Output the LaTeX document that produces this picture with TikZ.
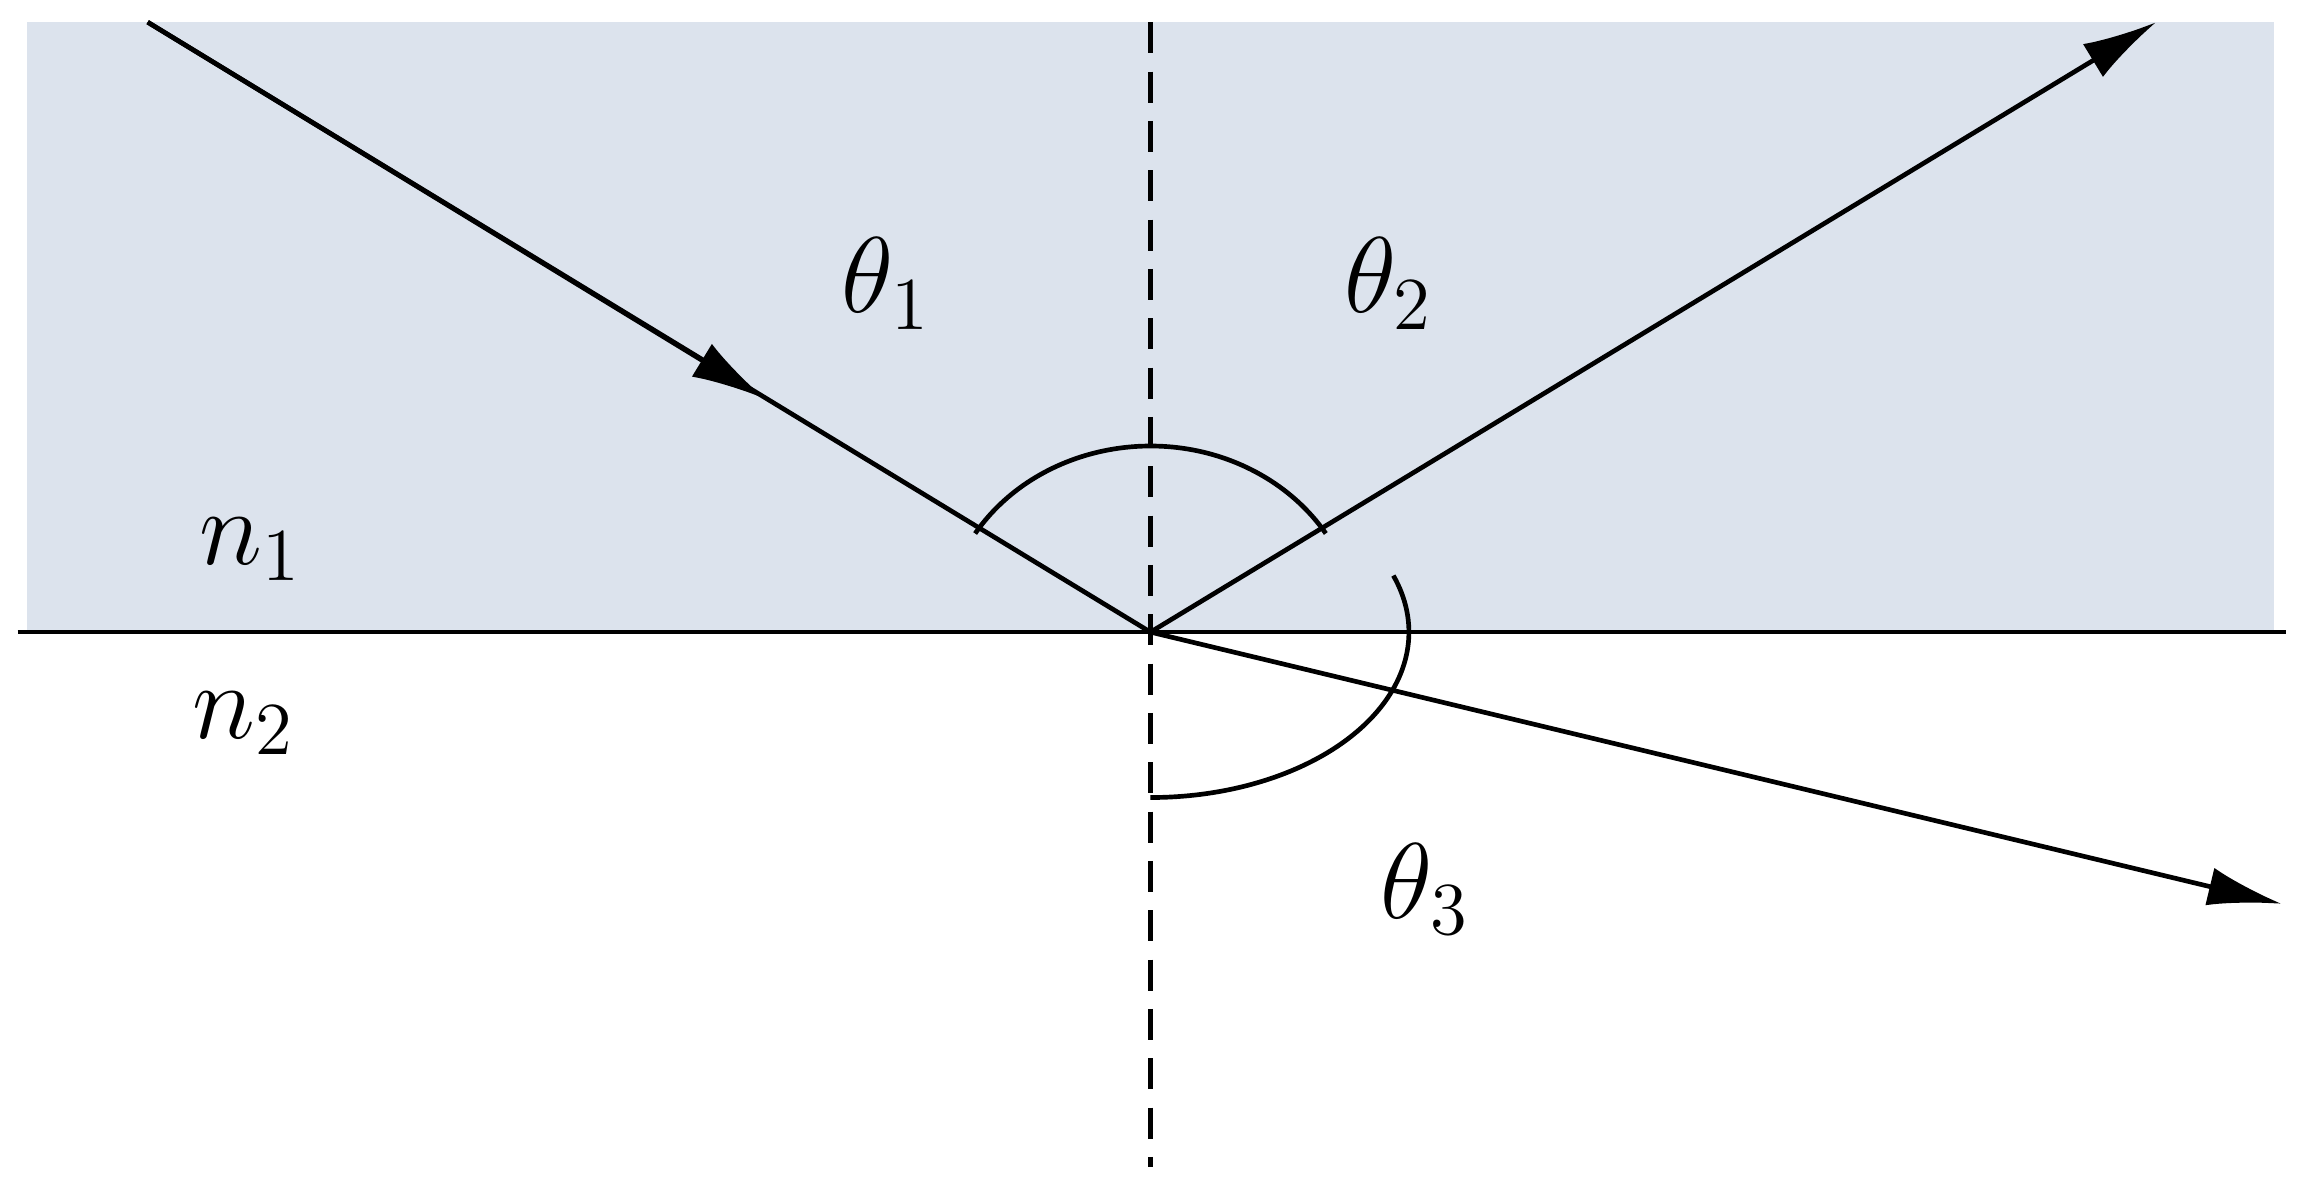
\documentclass[tikz,border=0pt]{standalone}
\usetikzlibrary{arrows.meta}
\definecolor{med}{HTML}{DCE3ED}
\begin{document}
\begin{tikzpicture}[x=0.01cm,y=-0.01cm,
  ray/.style={line width=0.9pt},
  tip/.style={-{Latex[length=5mm,width=2.6mm]}},
  lab/.style={font=\fontsize{22}{26}\selectfont}]
\useasboundingbox (0,0) rectangle (1556,805);
\fill[med] (18,15) rectangle (1540,428);
\coordinate (O) at (779,428);
\coordinate (S) at (100,15);
\coordinate (M) at (518,270);
\coordinate (R) at (1460,15);
\coordinate (T) at (1545,612);
\coordinate (L1) at (12,428);
\coordinate (L2) at (1548,428);
\coordinate (N1) at (779,15);
\coordinate (N2) at (779,790);
\draw[ray] (L1) -- (L2);
\draw[ray,dash pattern=on 6pt off 3.5pt] (N1) -- (N2);
\draw[ray] (S) -- (O);
\draw[ray,tip] (S) -- (M);
\draw[ray,tip] (O) -- (R);
\draw[ray,tip] (O) -- (T);
\draw[ray] (O) ++(-148:140 and 126) arc[start angle=-148,end angle=-32,x radius=140,y radius=126];
\draw[ray] (O) ++(90:175 and 112) arc[start angle=90,end angle=-20,x radius=175,y radius=112];
\node[lab] (t1) at (600,192) {$\theta_1$};
\node[lab] (t2) at (940,192) {$\theta_2$};
\node[lab] (t3) at (965,602) {$\theta_3$};
\node[lab] (n1) at (170,372) {$n_1$};
\node[lab] (n2) at (165,490) {$n_2$};
\end{tikzpicture}
\end{document}
